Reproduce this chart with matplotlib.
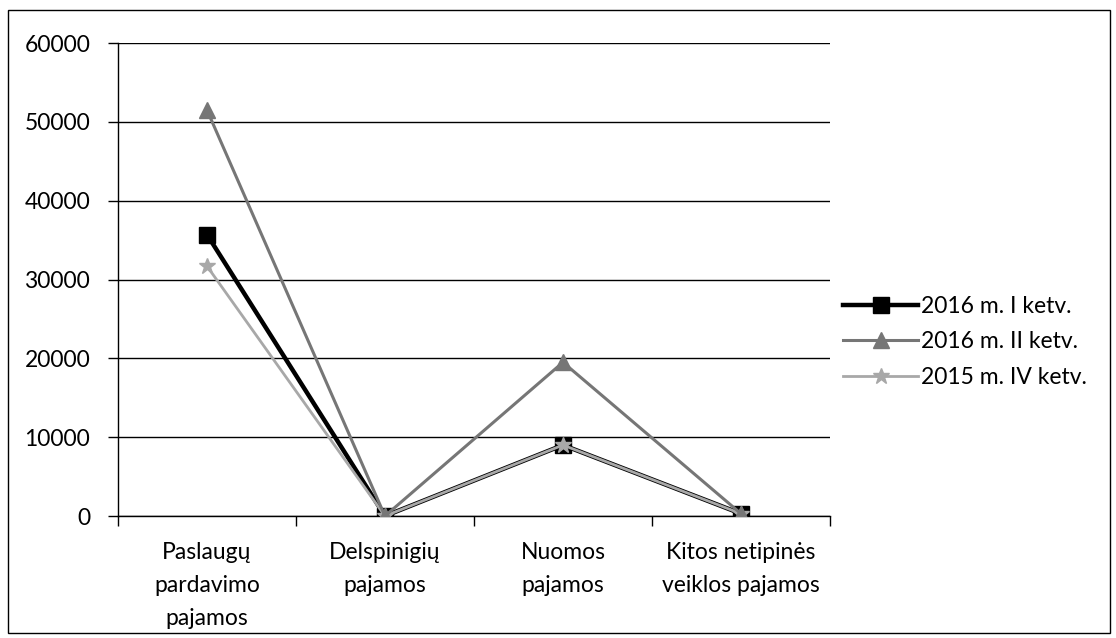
import matplotlib.pyplot as plt
from matplotlib.patches import Rectangle

categories = ['Paslaugų\npardavimo\npajamos', 'Delspinigių\npajamos',
              'Nuomos\npajamos', 'Kitos netipinės\nveiklos pajamos']
series_names = ['2016 m. I ketv.', '2016 m. II ketv.', '2015 m. IV ketv.']
q1_2016 = [35700, 0, 9000, 300]
q2_2016 = [51500, 0, 19500, 300]
q4_2015 = [31700, 0, 9000, 300]
y_ticks = [0, 10000, 20000, 30000, 40000, 50000, 60000]


def main():
    plt.rcParams['font.family'] = ['Lato', 'DejaVu Sans']

    fig = plt.figure(figsize=(11.16, 6.38), dpi=100)
    ax = fig.add_axes([0.1057, 0.1912, 0.638, 0.7414])

    x = list(range(len(categories)))
    # black under the light grey one, dark grey on top
    ax.plot(x, q1_2016, color='black', lw=3.2, marker='s', ms=11,
            label=series_names[0], zorder=3)
    ax.plot(x, q4_2015, color='#a8a8a8', lw=2, marker='*', ms=12,
            label=series_names[2], zorder=4)
    ax.plot(x, q2_2016, color='#767676', lw=2.2, marker='^', ms=11,
            label=series_names[1], zorder=5)

    ax.set_xlim(-0.5, len(categories) - 0.5)
    ax.set_ylim(0, 60000)
    ax.set_yticks(y_ticks)
    ax.set_yticklabels([str(v) for v in y_ticks])
    ax.set_xticks(x)
    ax.set_xticklabels(categories, linespacing=1.7)
    ax.set_xticks([i - 0.5 for i in range(len(categories) + 1)], minor=True)
    ax.tick_params(axis='x', which='major', length=0, pad=19, labelsize=16.5)
    ax.tick_params(axis='x', which='minor', length=7, width=1)
    ax.tick_params(axis='y', length=7, width=1, pad=13, labelsize=16.5)
    ax.grid(axis='y', color='black', lw=1)
    ax.set_axisbelow(True)

    for s in ['top', 'right']:
        ax.spines[s].set_visible(False)
    ax.spines['left'].set_linewidth(1)
    ax.spines['bottom'].set_linewidth(1)

    handles, labels = ax.get_legend_handles_labels()
    order = [0, 2, 1]
    ax.legend([handles[i] for i in order], [labels[i] for i in order],
              loc='center left', bbox_to_anchor=(1.018, 0.368), frameon=False,
              fontsize=16.5, handlelength=3.3, handletextpad=0.1,
              labelspacing=0.65, borderaxespad=0, borderpad=0)

    # outer chart border
    fig.patches.append(Rectangle((0.007, 0.008), 0.988, 0.977,
                                 transform=fig.transFigure, fill=False,
                                 edgecolor='black', lw=1))

    plt.savefig('out.png')


if __name__ == '__main__':

    main()
